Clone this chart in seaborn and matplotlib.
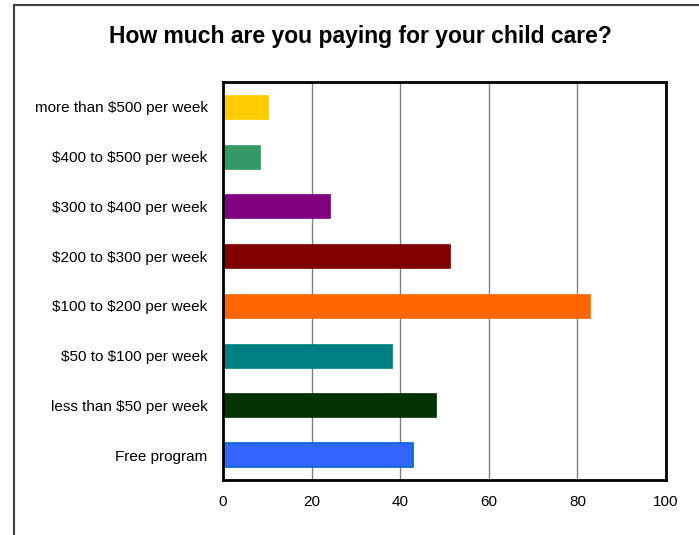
import matplotlib
matplotlib.use("Agg")
import matplotlib.pyplot as plt
import seaborn as sns
import pandas as pd
from matplotlib.patches import Rectangle
from matplotlib.ticker import FixedLocator

categories = ["more than $500 per week", "$400 to $500 per week", "$300 to $400 per week",
              "$200 to $300 per week", "$100 to $200 per week", "$50 to $100 per week",
              "less than $50 per week", "Free program"]
values = [10.2, 8.3, 24.2, 51.2, 82.8, 38.2, 48.1, 43.0]
colors = ["#FFCC00", "#339966", "#800080", "#800000", "#FF6600", "#008080", "#003300", "#3366FF"]
xticks = [0, 20, 40, 60, 80, 100]
title = "How much are you paying for your child care?"

sns.set_style("white")
plt.rcParams['font.family'] = ['Liberation Sans', 'DejaVu Sans']
plt.rcParams['text.parse_math'] = False
plt.rcParams['text.color'] = 'black'
plt.rcParams['xtick.labelcolor'] = 'black'
plt.rcParams['ytick.labelcolor'] = 'black'

df = pd.DataFrame({"category": categories, "value": values})

fig = plt.figure(figsize=(6.99, 5.35), dpi=100)
W, H = 699, 535
ax = fig.add_axes([223 / W, 1 - 480 / H, (666 - 223) / W, (480 - 82) / H])

sns.barplot(data=df, y="category", x="value", hue="category", palette=colors,
            order=categories, hue_order=categories, legend=False, width=0.48, ax=ax,
            saturation=1)
for p, c in zip(ax.patches, colors):
    if c == "#3366FF":
        p.set_edgecolor("#0066CC")
        p.set_linewidth(1.2)
    else:
        p.set_edgecolor(c)
        p.set_linewidth(0.5)

ax.set_xlim(0, 100)
ax.set_ylim(len(categories) - 0.5, -0.5)
ax.set_xticks(xticks)
ax.set_xticklabels([str(t) for t in xticks], fontsize=11, color="black")
ax.set_yticks(range(len(categories)))
ax.set_yticklabels(categories, fontsize=11, color="black")
ax.yaxis.set_minor_locator(FixedLocator([i - 0.5 for i in range(len(categories) + 1)]))
ax.tick_params(axis="y", which="major", length=0, pad=11)
ax.tick_params(axis="y", which="minor", length=3, width=1, color="#555555", direction="out")
ax.tick_params(axis="x", which="major", length=3, width=1, color="#555555", direction="out", pad=8)
ax.set_xlabel("")
ax.set_ylabel("")
ax.grid(axis="x", color="#808080", linewidth=1)
ax.grid(axis="y", visible=False)
ax.set_axisbelow(True)
for s in ax.spines.values():
    s.set_visible(True)
    s.set_color("black")
    s.set_linewidth(2)

fig.text(360 / W, 1 - 36 / H, title, ha="center", va="center", fontsize=16.5,
         fontweight="bold", color="black")

fig.patches.append(Rectangle((13.5 / W, -0.1), 2, 1.1 - 5.5 / H, transform=fig.transFigure,
                             fill=False, edgecolor="#404040", linewidth=1.5))

fig.savefig("out.png", dpi=100)
